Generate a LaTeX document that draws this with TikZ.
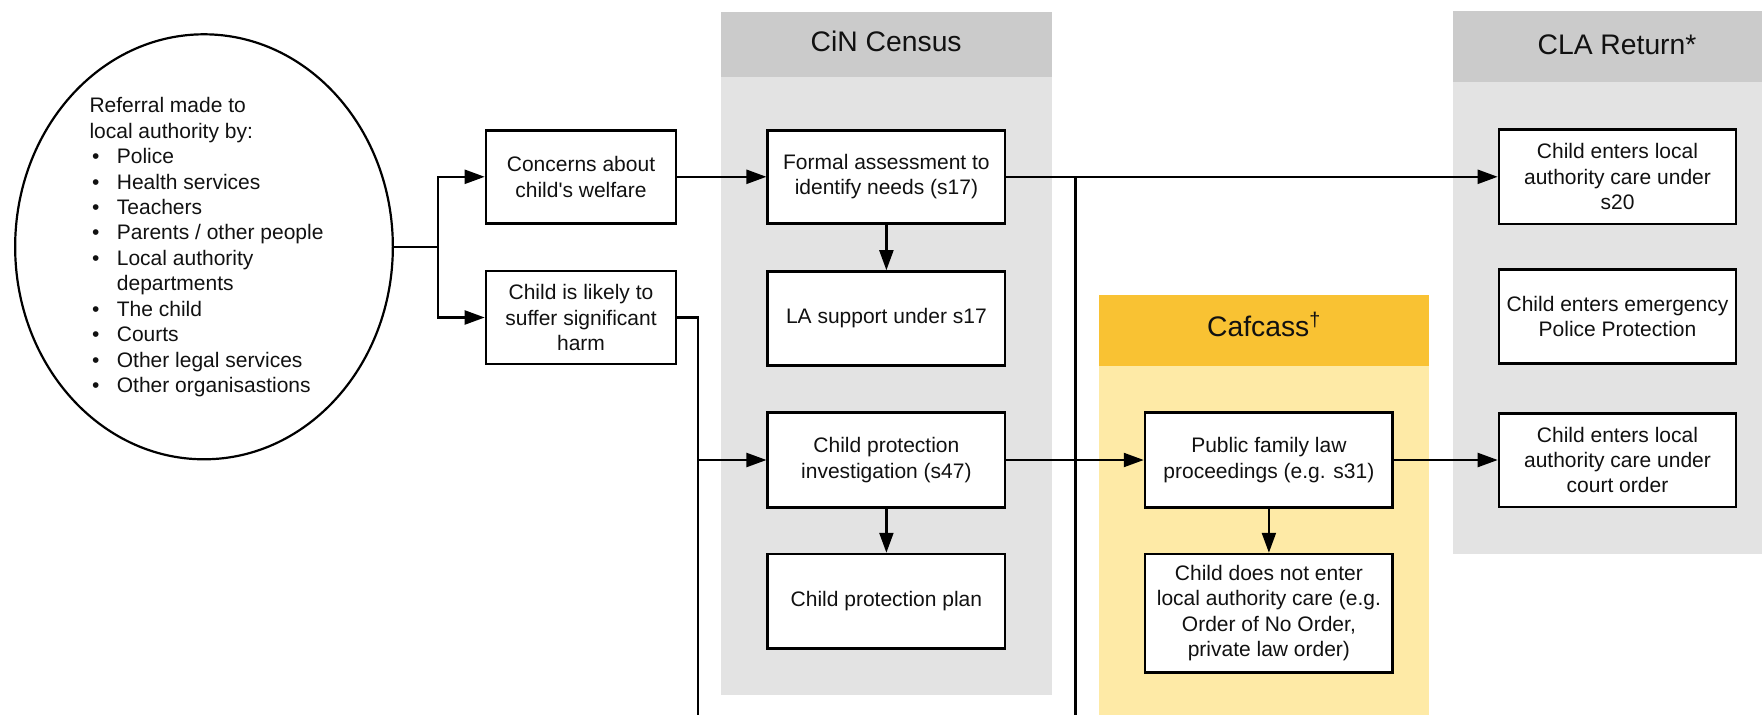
\documentclass[tikz,border=0pt]{standalone}
\usepackage{fontspec}
\setmainfont{Liberation Sans}
\usetikzlibrary{arrows.meta,shapes.geometric}
\definecolor{greybody}{HTML}{E3E3E3}
\definecolor{greyhead}{HTML}{CBCBCB}
\definecolor{cafbody}{HTML}{FEEAA6}
\definecolor{cafhead}{HTML}{F9C233}
\definecolor{ink}{HTML}{111111}
\newcommand{\refbullet}{\makebox[27.4pt][l]{\hspace{2.7pt}•}}
\begin{document}
\begin{tikzpicture}[x=1pt,y=-1pt,
  stepbox/.style={draw, line width=2.6pt, fill=white, inner sep=0pt, align=center,
    text=ink, font=\fontsize{21}{25.4}\selectfont},
  conn/.style={line width=2.2pt},
  arr/.style={conn, -{Triangle[length=20pt,width=14pt]}},
  headlabel/.style={anchor=base, inner sep=0pt, text=ink, font=\fontsize{28.3}{34}\selectfont}]
\useasboundingbox (0,0) rectangle (1762,715);

% CiN Census panel
\fill[greybody] (720.7,11.7) rectangle (1051.7,695);
\fill[greyhead] (720.7,11.7) rectangle (1051.7,77.3);
\node[headlabel] (cinlabel) at (886.2,51) {CiN Census};

% CLA Return panel
\fill[greybody] (1452.7,11) rectangle (1762,553.8);
\fill[greyhead] (1452.7,11) rectangle (1762,82);
\node[headlabel] (clalabel) at (1617,54) {CLA Return*};

% Cafcass panel
\fill[cafbody] (1099,295) rectangle (1429,715);
\fill[cafhead] (1099,295) rectangle (1429,365.7);
\node[headlabel] (caflabel) at (1264,336) {Cafcass\textsuperscript{†}};

% Referral sources
\node[draw, ellipse, line width=2.2pt, minimum width=377.7pt, minimum height=425pt,
  inner sep=0pt] (referral) at (204,246.8) {};
\node[anchor=base west, inner sep=0pt, text=ink, font=\fontsize{21}{25.45}\selectfont]
  (referraltext) at (89.3,112.7) {\begin{tabular}[t]{@{}l@{}}
  Referral made to\\
  local authority by:\\
  \refbullet Police\\
  \refbullet Health services\\
  \refbullet Teachers\\
  \refbullet Parents / other people\\
  \refbullet Local authority\\
  \hspace{27.4pt}departments\\
  \refbullet The child\\
  \refbullet Courts\\
  \refbullet Other legal services\\
  \refbullet Other organisastions
  \end{tabular}};

% Process boxes
\node[stepbox, minimum width=190pt, minimum height=93pt] (concerns) at (581,176.8)
  {Concerns about\\child\textquotesingle s welfare};
\node[stepbox, minimum width=190pt, minimum height=93pt] (likely) at (581,317.5)
  {Child is likely to\\suffer significant\\harm};
\node[stepbox, minimum width=237.3pt, minimum height=93pt] (formal) at (886.4,176.8)
  {Formal assessment to\\identify needs (s17)};
\node[stepbox, minimum width=237.3pt, minimum height=94pt] (lasup) at (886.4,318.5)
  {LA support under s17};
\node[stepbox, minimum width=237.3pt, minimum height=94.5pt] (cpinv) at (886.4,460)
  {Child protection\\investigation (s47)};
\node[stepbox, minimum width=237.3pt, minimum height=94.5pt] (cpplan) at (886.4,601.3)
  {Child protection plan};
\node[stepbox, minimum width=247.7pt, minimum height=94.5pt] (public) at (1268.9,460)
  {Public family law\\proceedings (e.g. s31)};
\node[stepbox, minimum width=247.7pt, minimum height=118.3pt] (notenter) at (1268.9,613.2)
  {Child does not enter\\local authority care (e.g.\\Order of No Order,\\private law order)};
\node[stepbox, minimum width=237pt, minimum height=94.7pt] (s20) at (1617.5,176.8)
  {Child enters local\\authority care under\\s20};
\node[stepbox, minimum width=237pt, minimum height=94.4pt] (emerg) at (1617.5,316.5)
  {Child enters emergency\\Police Protection};
\node[stepbox, minimum width=237pt, minimum height=93.6pt] (court) at (1617.5,460)
  {Child enters local\\authority care under\\court order};

% Connectors
\coordinate (fork) at (438.3,246.8);
\coordinate (drop1) at (698,715);
\coordinate (drop2) at (1075.5,715);
\draw[conn] (referral.east) -- (fork);
\draw[arr] (fork) |- (concerns.west);
\draw[arr] (fork) |- (likely.west);
\draw[arr] (concerns) -- (formal);
\draw[arr] (formal) -- (lasup);
\draw[arr] (cpinv) -- (cpplan);
\draw[conn] (likely.east) -| (drop1);
\draw[arr] (cpinv.west -| drop1) -- (cpinv.west);
\draw[arr] (formal.east) -- (s20.west);
\draw[conn] (formal.east -| drop2) -- (drop2);
\draw[arr] (cpinv.east) -- (public.west);
\draw[arr] (public.east) -- (court.west);
\draw[arr] (public) -- (notenter);
\end{tikzpicture}
\end{document}
